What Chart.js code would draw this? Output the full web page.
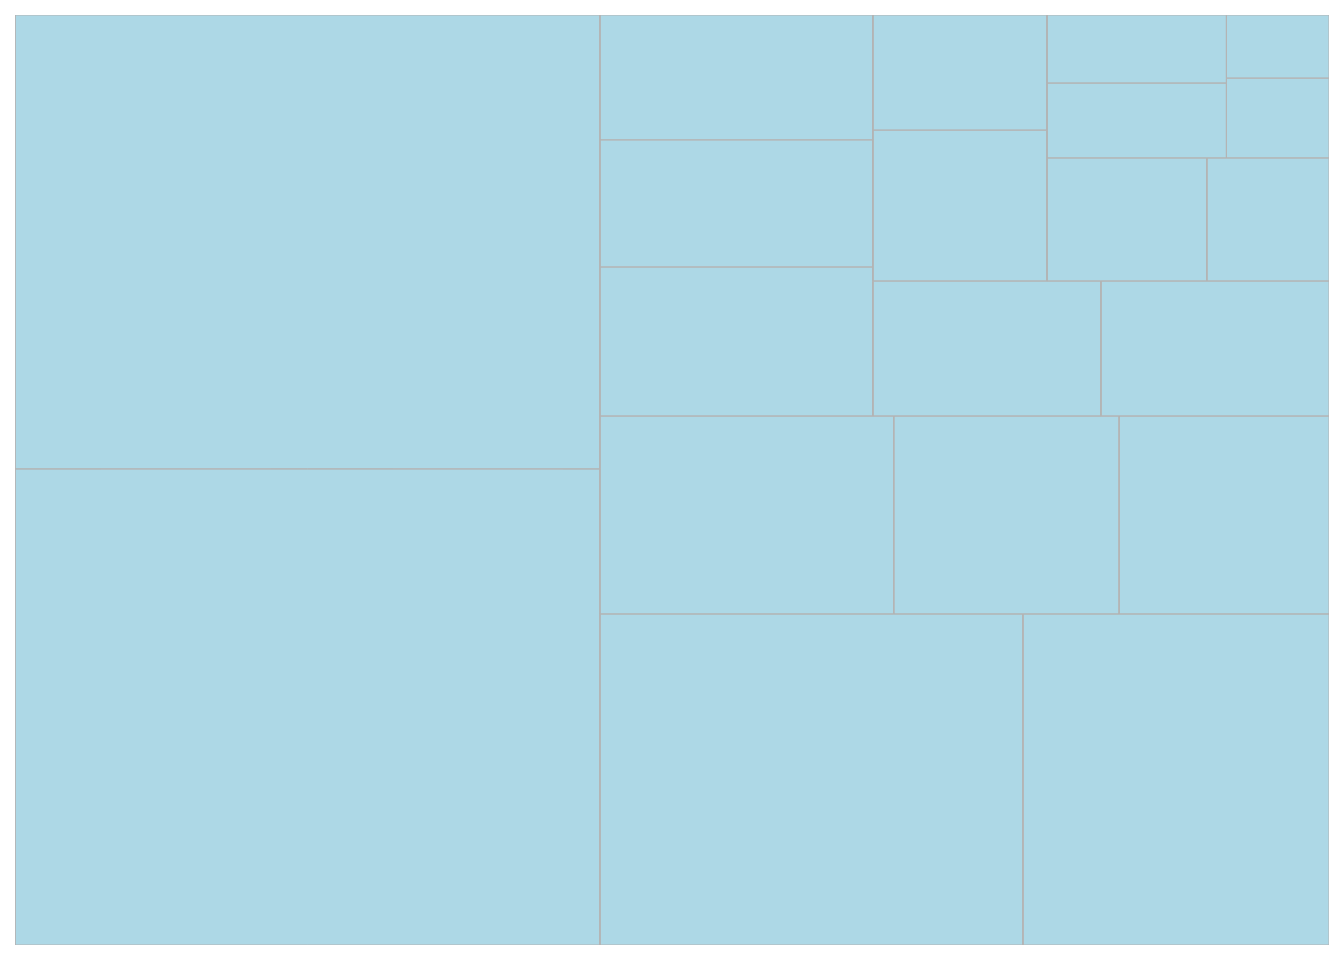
<!DOCTYPE html>
<html>
<head>
<meta charset="utf-8">
<title>Treemap</title>
<script src="https://cdn.jsdelivr.net/npm/chart.js@4/dist/chart.umd.min.js"></script>
<style>
  html, body { margin: 0; padding: 0; background: #ffffff; }
  #wrap { width: 1344px; height: 960px; }
</style>
</head>
<body>
<div id="wrap"><canvas id="treemapChart" width="1344" height="960"></canvas></div>
<script>
// Categorias e valores (ordenados do maior para o menor)
var categories = ['A', 'B', 'C', 'D', 'E', 'F', 'G', 'H', 'I', 'J',
                  'K', 'L', 'M', 'N', 'O', 'P', 'Q', 'R', 'S', 'T'];
var values = [22.79, 21.73, 11.46, 8.29, 4.76, 3.65, 3.40, 3.33, 2.84, 2.79,
              2.52, 2.52, 2.15, 1.64, 1.61, 1.23, 1.10, 1.00, 0.67, 0.53];

// Layout "squarified" (mesma lógica do pacote squarify), num espaço 100 x 100
function layoutRow(sizes, x, y, dx, dy) {
    var covered = sizes.reduce(function (a, b) { return a + b; }, 0);
    var width = covered / dy;
    return sizes.map(function (s) {
        var r = { x: x, y: y, dx: width, dy: s / width };
        y += s / width;
        return r;
    });
}

function layoutCol(sizes, x, y, dx, dy) {
    var covered = sizes.reduce(function (a, b) { return a + b; }, 0);
    var height = covered / dx;
    return sizes.map(function (s) {
        var r = { x: x, y: y, dx: s / height, dy: height };
        x += s / height;
        return r;
    });
}

function layout(sizes, x, y, dx, dy) {
    return dx >= dy ? layoutRow(sizes, x, y, dx, dy) : layoutCol(sizes, x, y, dx, dy);
}

function leftover(sizes, x, y, dx, dy) {
    var covered = sizes.reduce(function (a, b) { return a + b; }, 0);
    if (dx >= dy) {
        var w = covered / dy;
        return [x + w, y, dx - w, dy];
    }
    var h = covered / dx;
    return [x, y + h, dx, dy - h];
}

function worstRatio(sizes, x, y, dx, dy) {
    return Math.max.apply(null, layout(sizes, x, y, dx, dy).map(function (r) {
        return Math.max(r.dx / r.dy, r.dy / r.dx);
    }));
}

function squarify(sizes, x, y, dx, dy) {
    if (sizes.length === 0) return [];
    if (sizes.length === 1) return layout(sizes, x, y, dx, dy);
    var i = 1;
    while (i < sizes.length &&
           worstRatio(sizes.slice(0, i), x, y, dx, dy) >= worstRatio(sizes.slice(0, i + 1), x, y, dx, dy)) {
        i++;
    }
    var current = sizes.slice(0, i);
    var rest = leftover(current, x, y, dx, dy);
    return layout(current, x, y, dx, dy).concat(squarify(sizes.slice(i), rest[0], rest[1], rest[2], rest[3]));
}

function createTreemap(ctx) {
    var total = values.reduce(function (a, b) { return a + b; }, 0);
    var sizes = values.map(function (v) { return v * 100 * 100 / total; });
    var rects = squarify(sizes, 0, 0, 100, 100);

    // Cada célula vira um polígono fechado desenhado nas escalas do Chart.js
    var datasets = rects.map(function (r, i) {
        return {
            label: categories[i],
            data: [
                { x: r.x, y: r.y },
                { x: r.x + r.dx, y: r.y },
                { x: r.x + r.dx, y: r.y + r.dy },
                { x: r.x, y: r.y + r.dy },
                { x: r.x, y: r.y }
            ],
            showLine: true,
            fill: 'shape',
            backgroundColor: '#add8e6',
            borderColor: '#b4b4b4',
            borderWidth: 1,
            pointRadius: 0,
            pointHoverRadius: 0,
            tension: 0
        };
    });

    new Chart(ctx, {
        type: 'scatter',
        data: { datasets: datasets },
        options: {
            responsive: false,
            animation: false,
            layout: { padding: { left: 15, right: 15, top: 15, bottom: 15 } },
            plugins: {
                legend: { display: false },
                tooltip: { enabled: false },
                filler: { drawTime: 'beforeDatasetsDraw' }
            },
            scales: {
                x: { type: 'linear', min: 0, max: 100, display: false },
                y: { type: 'linear', min: 0, max: 100, display: false }
            }
        }
    });
}

document.addEventListener('DOMContentLoaded', function () {
    var ctx = document.getElementById('treemapChart').getContext('2d');
    createTreemap(ctx);
});
</script>
</body>
</html>
